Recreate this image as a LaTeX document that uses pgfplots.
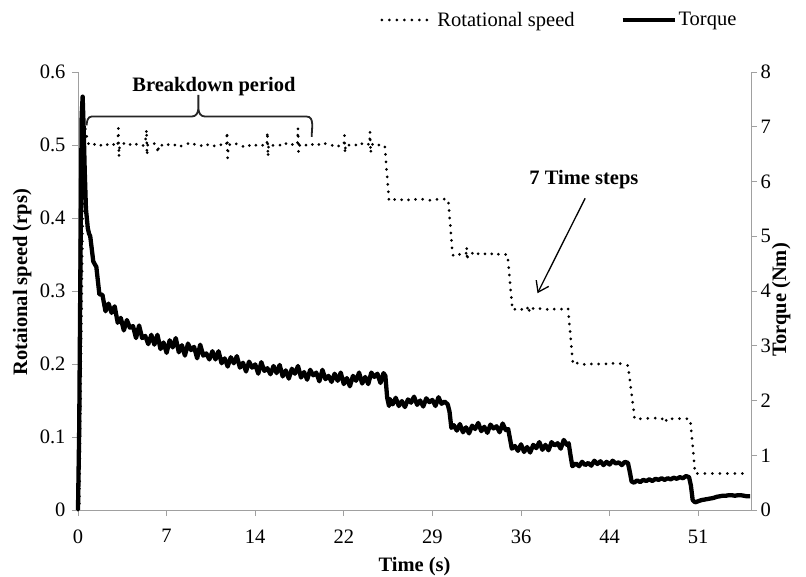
\documentclass[border=0pt]{standalone}
\usepackage{fontspec}
\setmainfont{Liberation Serif}
\usepackage{pgfplots}
\usepackage{pgfplotstable}
\pgfplotsset{compat=1.18}
\usetikzlibrary{arrows.meta,calc}
\newcommand\fs{\fontsize{20.5}{24}\selectfont}
\definecolor{axgray}{RGB}{160,160,160}

\pgfplotstableread{
x y
0 0
0.10 0.000
0.45 0.500
0.60 0.522
0.75 0.508
0.90 0.500
1.00 0.500
1.25 0.502
1.50 0.499
1.75 0.501
2.00 0.498
2.25 0.501
2.50 0.500
2.75 0.498
3.00 0.502
3.25 0.499
3.30 0.523
3.35 0.484
3.40 0.500
3.50 0.500
3.75 0.502
4.00 0.499
4.25 0.501
4.50 0.498
4.75 0.501
5.00 0.500
5.25 0.498
5.50 0.502
5.60 0.521
5.65 0.486
5.70 0.500
5.75 0.499
6.00 0.500
6.25 0.502
6.45 0.499
6.55 0.489
6.60 0.500
6.75 0.501
7.00 0.498
7.25 0.501
7.50 0.500
7.75 0.502
8.00 0.499
8.25 0.501
8.50 0.498
8.75 0.500
9.00 0.502
9.25 0.499
9.50 0.501
9.75 0.500
10.00 0.498
10.25 0.501
10.50 0.499
10.75 0.502
11.00 0.500
11.25 0.498
11.50 0.501
11.75 0.500
12.00 0.499
12.15 0.500
12.20 0.518
12.25 0.482
12.30 0.500
12.50 0.501
12.75 0.499
13.00 0.502
13.25 0.500
13.50 0.498
13.75 0.501
14.00 0.499
14.25 0.502
14.50 0.500
14.75 0.499
15.00 0.501
15.25 0.498
15.45 0.500
15.50 0.518
15.55 0.484
15.60 0.500
15.75 0.502
16.00 0.499
16.25 0.501
16.50 0.500
16.75 0.498
17.00 0.502
17.25 0.499
17.50 0.501
17.75 0.500
17.95 0.500
18.00 0.523
18.05 0.491
18.10 0.500
18.25 0.498
18.50 0.501
18.75 0.499
19.00 0.502
19.25 0.500
19.50 0.498
19.75 0.501
20.00 0.499
20.25 0.502
20.50 0.500
20.75 0.499
21.00 0.501
21.25 0.498
21.50 0.500
21.75 0.500
21.80 0.513
21.85 0.489
21.90 0.500
22.00 0.502
22.25 0.499
22.50 0.501
22.75 0.500
23.00 0.498
23.25 0.502
23.50 0.499
23.75 0.501
23.85 0.500
23.90 0.518
23.95 0.489
24.00 0.500
24.25 0.502
24.50 0.499
24.75 0.501
25.00 0.500
25.10 0.499
25.45 0.424
25.50 0.423
25.75 0.424
26.00 0.426
26.25 0.424
26.50 0.425
26.75 0.427
27.00 0.425
27.25 0.424
27.50 0.426
27.75 0.425
28.00 0.424
28.25 0.426
28.50 0.425
28.75 0.424
29.00 0.426
29.25 0.425
29.50 0.426
29.75 0.425
30.00 0.426
30.30 0.425
30.65 0.350
30.75 0.348
31.00 0.351
31.25 0.350
31.50 0.349
31.75 0.351
31.80 0.360
31.85 0.342
31.90 0.350
32.00 0.350
32.25 0.352
32.50 0.348
32.75 0.351
33.00 0.349
33.25 0.351
33.50 0.350
33.75 0.352
34.00 0.349
34.25 0.351
34.50 0.350
34.75 0.351
35.00 0.350
35.15 0.350
35.55 0.274
35.75 0.275
36.00 0.276
36.25 0.274
36.50 0.277
36.75 0.275
36.85 0.280
36.95 0.271
37.05 0.275
37.25 0.276
37.50 0.274
37.75 0.276
38.00 0.275
38.25 0.276
38.50 0.274
38.75 0.276
39.00 0.275
39.25 0.276
39.50 0.275
39.75 0.276
40.00 0.275
40.10 0.276
40.50 0.200
40.75 0.202
41.00 0.200
41.25 0.201
41.50 0.199
41.75 0.201
42.00 0.200
42.25 0.201
42.50 0.200
42.75 0.200
43.00 0.201
43.25 0.200
43.50 0.199
43.75 0.201
44.00 0.200
44.25 0.201
44.50 0.200
44.75 0.199
45.00 0.198
45.55 0.125
45.75 0.126
46.00 0.125
46.25 0.125
46.50 0.126
46.75 0.125
47.00 0.125
47.25 0.126
47.50 0.125
47.75 0.124
48.00 0.128
48.15 0.122
48.25 0.125
48.50 0.125
48.75 0.125
49.00 0.126
49.25 0.125
49.50 0.125
49.75 0.125
50.00 0.125
50.10 0.124
50.50 0.050
52.50 0.050
54.40 0.050
}\speed

\pgfplotstableread{
x y
0 0
0.10 1.5
0.20 4.5
0.30 7.2
0.38 7.55
0.46 7.0
0.55 6.2
0.65 5.5
0.80 5.15
0.90 5.05
1.00 5.00
1.25 4.54
1.50 4.44
1.75 3.94
2.00 3.93
2.25 3.63
2.50 3.77
2.75 3.60
3.00 3.72
3.25 3.42
3.50 3.51
3.75 3.28
4.00 3.47
4.25 3.33
4.50 3.36
4.75 3.14
5.00 3.37
5.25 3.14
5.50 3.18
5.75 3.03
6.00 3.20
6.25 3.02
6.50 3.20
6.75 2.94
7.00 3.06
7.25 2.87
7.50 3.10
7.75 2.97
8.00 3.14
8.25 2.88
8.50 3.01
8.75 2.82
9.00 3.04
9.25 2.92
9.50 2.98
9.75 2.77
10.00 3.02
10.25 2.82
10.50 2.86
10.75 2.75
11.00 2.90
11.25 2.75
11.50 2.90
11.75 2.68
12.00 2.77
12.25 2.62
12.50 2.79
12.75 2.68
13.00 2.81
13.25 2.60
13.50 2.69
13.75 2.53
14.00 2.71
14.25 2.60
14.50 2.66
14.75 2.49
15.00 2.70
15.25 2.54
15.50 2.59
15.75 2.48
16.00 2.63
16.25 2.50
16.50 2.65
16.75 2.44
17.00 2.55
17.25 2.40
17.50 2.58
17.75 2.49
18.00 2.63
18.25 2.42
18.50 2.52
18.75 2.38
19.00 2.56
19.25 2.46
19.50 2.51
19.75 2.35
20.00 2.56
20.25 2.39
20.50 2.45
20.75 2.34
21.00 2.49
21.25 2.36
21.50 2.51
21.75 2.30
22.00 2.41
22.25 2.26
22.50 2.45
22.75 2.36
23.00 2.51
23.25 2.31
23.50 2.43
23.75 2.30
24.00 2.51
24.25 2.43
24.50 2.49
24.75 2.32
25.00 2.50
25.15 2.45
25.30 2.05
25.45 1.90
25.50 2.03
25.75 1.93
26.00 2.05
26.25 1.90
26.50 1.99
26.75 1.88
27.00 2.02
27.25 1.96
27.50 2.07
27.75 1.92
28.00 2.00
28.25 1.89
28.50 2.04
28.75 1.97
29.00 2.01
29.25 1.90
29.50 2.06
29.75 1.94
30.00 1.98
30.25 1.93
30.40 1.80
30.55 1.50
30.75 1.55
31.00 1.45
31.25 1.57
31.50 1.42
31.75 1.51
32.00 1.40
32.25 1.54
32.50 1.48
32.75 1.59
33.00 1.44
33.25 1.52
33.50 1.41
33.75 1.56
34.00 1.49
34.25 1.53
34.50 1.42
34.75 1.58
35.00 1.46
35.20 1.48
35.35 1.30
35.50 1.12
35.75 1.17
36.00 1.08
36.25 1.20
36.50 1.06
36.75 1.15
37.00 1.05
37.25 1.19
37.50 1.13
37.75 1.24
38.00 1.10
38.25 1.19
38.50 1.09
38.75 1.24
39.00 1.18
39.25 1.22
39.50 1.12
39.75 1.28
40.00 1.19
40.15 1.22
40.30 1.00
40.45 0.80
40.75 0.85
41.00 0.80
41.25 0.88
41.50 0.82
41.75 0.86
42.00 0.81
42.25 0.90
42.50 0.84
42.75 0.89
43.00 0.82
43.25 0.88
43.50 0.83
43.75 0.90
44.00 0.85
44.25 0.87
44.50 0.82
44.75 0.88
45.00 0.86
45.15 0.70
45.30 0.52
45.50 0.50
45.75 0.54
46.00 0.51
46.25 0.55
46.50 0.53
46.75 0.56
47.00 0.53
47.25 0.57
47.50 0.55
47.75 0.58
48.00 0.55
48.25 0.58
48.50 0.56
48.75 0.59
49.00 0.57
49.25 0.60
49.50 0.58
49.75 0.62
50.00 0.60
50.15 0.45
50.30 0.18
50.50 0.14
50.75 0.16
51.00 0.18
51.25 0.19
51.50 0.20
51.75 0.21
52.00 0.22
52.25 0.24
52.50 0.25
52.75 0.26
53.00 0.26
53.25 0.27
53.50 0.27
53.75 0.26
54.00 0.27
54.25 0.27
54.50 0.26
54.75 0.25
55.00 0.25
}\torque

\pgfplotsset{
  speedstyle/.style={black, line width=3pt, line cap=round, dash pattern=on 0pt off 7.5pt},
  torquestyle/.style={black, line width=4.3pt, line join=round},
  common/.style={
    scale only axis, width=673pt, height=438pt,
    xmin=0, xmax=55.07,
    tick align=outside, major tick length=6pt,
    tick style={draw=axgray, line width=0.8pt},
    axis line style={draw=axgray, line width=0.8pt, -},
    /pgf/number format/assume math mode=true,
    tick label style={font=\fs, text=black},
    label style={font=\fs\bfseries},
    clip=false,
  }
}

\begin{document}
\begin{tikzpicture}[font=\fs]
\begin{axis}[common, name=ax1,
  ymin=0, ymax=0.6,
  axis x line*=bottom, axis y line*=left,
  xtick={0,7.25,14.5,21.75,29,36.25,43.5,50.75},
  xticklabels={0,7,14,22,29,36,44,51},
  ytick={0,0.1,0.2,0.3,0.4,0.5,0.6},
  yticklabels={0,0.1,0.2,0.3,0.4,0.5,0.6},
  xticklabel style={yshift=-10pt},
  yticklabel style={xshift=-3pt},
  xlabel={Time (s)}, ylabel={Rotaional speed (rps)},
  xlabel style={at={(axis description cs:0.5,-0.13)}, anchor=center},
  ylabel style={at={(axis description cs:-0.083,0.52)}, anchor=center},
]
\addplot[speedstyle] table[x=x,y=y] {\speed};
\draw[line width=1.8pt, black!85] (axis cs:0.71,0.527) to[out=90,in=180] (axis cs:1.12,0.539)
  -- (axis cs:9.3,0.539) to[out=0,in=-90] (axis cs:9.85,0.5685)
  to[out=-90,in=180] (axis cs:10.4,0.539) -- (axis cs:18.7,0.539)
  to[out=0,in=90] (axis cs:19.12,0.511);
\node[font=\fs\bfseries] at (axis cs:11.13,0.5795) {Breakdown period};
\node[font=\fs\bfseries] at (axis cs:41.4,0.453) {7 Time steps};
\draw[line width=1.3pt, -{Straight Barb[length=10pt,width=14pt]}] (axis cs:41.5,0.427) -- (axis cs:37.6,0.297);
\end{axis}
\begin{axis}[common,
  ymin=0, ymax=8,
  axis x line=none, axis y line*=right,
  ytick={0,1,2,3,4,5,6,7,8},
  ylabel={Torque (Nm)},
  ylabel style={at={(axis description cs:1.045,0.48)}, anchor=center},
  legend columns=2,
  legend style={at={(axis description cs:0.449,1.119)}, anchor=west, draw=none, fill=none,
    inner sep=0pt, font=\fs, /tikz/every even column/.append style={column sep=44pt}},
  legend image code/.code={\draw[#1] (0pt,0pt) -- (52pt,0pt);},
]
\addlegendimage{speedstyle}
\addlegendentry{Rotational speed}
\addlegendimage{black, line width=4pt}
\addlegendentry{Torque}
\addplot[torquestyle, forget plot] table[x=x,y=y] {\torque};
\end{axis}
\pgfresetboundingbox
\path ($(ax1.south west)+(-78pt,-66pt)$) rectangle ($(ax1.north east)+(55pt,72pt)$);
\end{tikzpicture}
\end{document}
